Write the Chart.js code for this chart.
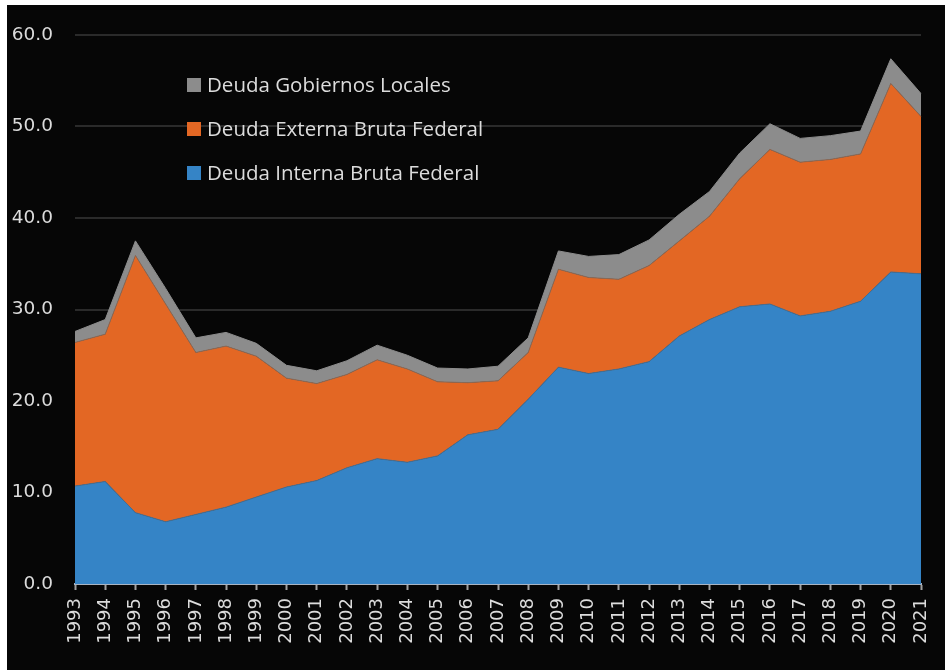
<!DOCTYPE html>
<html>

<head>
    <title>Deuda del sector público</title>
    <style>
        body { margin: 0; background: #ffffff; }
        #wrap { position: absolute; left: 7px; top: 5px; width: 938px; height: 665px; background: #060606; }
    </style>
</head>

<body>
    <div id="wrap"><canvas id="myChart"></canvas></div>
    <script src="https://cdn.jsdelivr.net/npm/chart.js@4"></script>

    <script type="text/javascript">
        const years = ['1993', '1994', '1995', '1996', '1997', '1998', '1999', '2000', '2001', '2002',
            '2003', '2004', '2005', '2006', '2007', '2008', '2009', '2010', '2011', '2012',
            '2013', '2014', '2015', '2016', '2017', '2018', '2019', '2020', '2021'];

        // % del PIB, apilado: interna + externa + gobiernos locales
        const deudaInterna = [10.7, 11.2, 7.8, 6.8, 7.6, 8.4, 9.5, 10.6, 11.3, 12.7,
            13.7, 13.3, 14.0, 16.3, 16.9, 20.2, 23.7, 23.0, 23.5, 24.3,
            27.1, 28.9, 30.3, 30.6, 29.3, 29.8, 30.9, 34.1, 33.9];
        const deudaExterna = [15.7, 16.1, 28.1, 23.8, 17.7, 17.6, 15.4, 11.9, 10.6, 10.2,
            10.8, 10.2, 8.1, 5.7, 5.3, 5.1, 10.7, 10.5, 9.8, 10.5,
            10.4, 11.3, 14.0, 16.9, 16.8, 16.6, 16.1, 20.6, 17.2];
        const deudaLocal = [1.2, 1.6, 1.6, 1.7, 1.6, 1.5, 1.4, 1.4, 1.4, 1.5,
            1.6, 1.5, 1.5, 1.5, 1.6, 1.6, 2.0, 2.3, 2.7, 2.8,
            2.9, 2.7, 2.8, 2.8, 2.6, 2.6, 2.5, 2.7, 2.5];

        const yTicks = [0, 10, 20, 30, 40, 50, 60];

        const legendFont = 'Open Sans';
        const tickFont = 'DejaVu Sans';
        const textColor = '#dcdcdc';

        // leyenda dentro del área del gráfico, en orden inverso al apilado
        const legendInside = {
            id: 'legendInside',
            afterDraw(chart) {
                const ctx = chart.ctx;
                const items = chart.data.datasets.slice().reverse();
                ctx.save();
                ctx.font = '20.5px ' + legendFont;
                ctx.textBaseline = 'middle';
                items.forEach((ds, i) => {
                    const y = 80 + i * 44;
                    ctx.fillStyle = ds.backgroundColor;
                    ctx.fillRect(180, y - 7, 14, 14);
                    ctx.fillStyle = textColor;
                    ctx.fillText(ds.label, 200, y + 1);
                });
                ctx.restore();
            }
        };

        const ctx = document.getElementById('myChart').getContext('2d');
        const chart = new Chart(ctx, {
            type: 'line',
            data: {
                labels: years,
                datasets: [{
                    label: 'Deuda Interna Bruta Federal',
                    data: deudaInterna,
                    backgroundColor: '#3584c6',
                    borderColor: '#4a6f90',
                    fill: 'origin'
                }, {
                    label: 'Deuda Externa Bruta Federal',
                    data: deudaExterna,
                    backgroundColor: '#e36724',
                    borderColor: '#8a6a58',
                    fill: '-1'
                }, {
                    label: 'Deuda Gobiernos Locales',
                    data: deudaLocal,
                    backgroundColor: '#8c8c8c',
                    borderColor: '#8c8c8c',
                    fill: '-1'
                }]
            },
            options: {
                responsive: true,
                maintainAspectRatio: false,
                animation: false,
                elements: {
                    point: { radius: 0 },
                    line: { borderWidth: 1, tension: 0 }
                },
                layout: { padding: { top: 30, right: 24, left: 0, bottom: 0 } },
                plugins: {
                    legend: { display: false },
                    tooltip: { enabled: false }
                },
                scales: {
                    x: {
                        offset: false,
                        grid: { drawOnChartArea: false, drawTicks: true, tickLength: 6, tickColor: '#a0a0a0', tickWidth: 2 },
                        border: { color: '#a8b4c4', width: 2 },
                        ticks: {
                            color: textColor,
                            font: { family: tickFont, size: 18 },
                            minRotation: 90,
                            maxRotation: 90,
                            autoSkip: false,
                            padding: 8
                        },
                        afterFit(scale) {
                            scale.height = 86;
                            scale.paddingLeft = 0;
                            scale.paddingRight = 0;
                        }
                    },
                    y: {
                        stacked: true,
                        min: 0,
                        max: 60,
                        afterBuildTicks(scale) { scale.ticks = yTicks.map(v => ({ value: v })); },
                        grid: { color: '#2a2a2a', lineWidth: 2, drawTicks: false },
                        border: { display: false },
                        ticks: {
                            color: textColor,
                            font: { family: tickFont, size: 18.5 },
                            padding: 22,
                            callback: v => v.toFixed(1)
                        },
                        afterFit(scale) {
                            scale.width = 68;
                            scale.paddingTop = 0;
                            scale.paddingBottom = 0;
                        }
                    }
                }
            },
            plugins: [legendInside]
        });
    </script>
</body>

</html>
